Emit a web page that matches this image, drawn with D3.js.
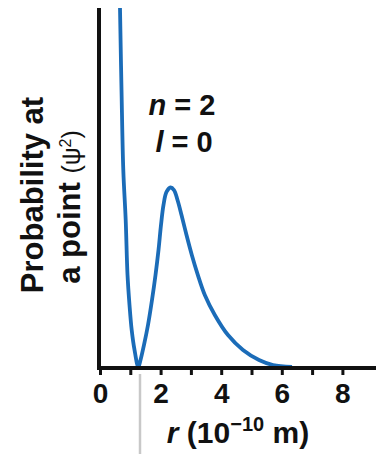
<!DOCTYPE html>
<html>
<head>
<meta charset="utf-8">
<script src="https://cdn.jsdelivr.net/npm/d3@7"></script>
<style>
  html, body { margin: 0; padding: 0; background: #fff; }
  svg { display: block; font-family: "Liberation Sans", Arial, Helvetica, sans-serif; }
</style>
</head>
<body>
<div id="chart"></div>
<script>
// ── Data ──────────────────────────────────────────────────────────────
// r in 10^-10 m, psi^2 in arbitrary units (peak of outer lobe = 1)
const rValues = [
  0.60, 0.660, 0.710, 0.769, 0.848, 0.908, 0.974, 1.046, 1.139, 1.264,
  1.337, 1.452, 1.584, 1.716, 1.832, 1.931, 2.013, 2.096, 2.195, 2.327,
  2.442, 2.558, 2.690, 2.855, 3.030, 3.228, 3.459, 3.789, 4.224, 4.719,
  5.248, 5.710, 6.337
];
const psiSquared = [
  2.6, 2.0, 1.543, 1.097, 0.819, 0.513, 0.345, 0.206, 0.095, 0.0,
  0.039, 0.123, 0.234, 0.373, 0.513, 0.652, 0.791, 0.903, 0.975, 1.0,
  0.986, 0.930, 0.847, 0.735, 0.624, 0.513, 0.401, 0.290, 0.178, 0.095,
  0.039, 0.011, 0.0
];
const xTicks = [0, 1, 2, 3, 4, 5, 6, 7, 8];
const xTickLabels = ['0', '', '2', '', '4', '', '6', '', '8'];

// ── Constants ─────────────────────────────────────────────────────────
const W = 376, H = 454;
const CURVE_BLUE = '#1b6cb8';

const svg = d3.select('#chart').append('svg')
  .attr('width', W).attr('height', H);

const x = d3.scaleLinear().domain([0, 8]).range([100, 342.4]);
const y = d3.scaleLinear().domain([0, 2]).range([367, 8]);

// gray guide line under the node
svg.append('line')
  .attr('x1', 140).attr('x2', 140)
  .attr('y1', 374).attr('y2', H)
  .attr('stroke', '#c8c8c8').attr('stroke-width', 2.5);

// clip so the inner lobe stops at the top of the axis
svg.append('defs').append('clipPath').attr('id', 'plot-clip')
  .append('rect').attr('x', 100).attr('y', 8).attr('width', W - 100).attr('height', 362);

const pts = rValues.map((r, i) => [r, psiSquared[i]]);
const line = d3.line()
  .x(d => x(d[0]))
  .y(d => y(d[1]))
  .curve(d3.curveCatmullRom.alpha(0.5));

svg.append('path')
  .datum(pts)
  .attr('clip-path', 'url(#plot-clip)')
  .attr('d', line)
  .attr('fill', 'none')
  .attr('stroke', CURVE_BLUE)
  .attr('stroke-width', 3.8)
  .attr('stroke-linejoin', 'round');

// X axis (ticks below, labels on even values)
const xAxis = d3.axisBottom(x)
  .tickValues(xTicks)
  .tickFormat((d, i) => xTickLabels[i])
  .tickSize(7)
  .tickSizeOuter(0)
  .tickPadding(8);

const ax = svg.append('g')
  .attr('transform', 'translate(0,368)')
  .call(xAxis);
ax.select('.domain').remove();
ax.selectAll('line').attr('stroke', '#111').attr('stroke-width', 3);
ax.selectAll('text')
  .attr('font-size', '28px')
  .attr('font-weight', 'bold')
  .attr('fill', '#111')
  .attr('font-family', '"Liberation Sans", Arial, sans-serif');

// axis lines
svg.append('line')
  .attr('x1', 97).attr('x2', W)
  .attr('y1', 368).attr('y2', 368)
  .attr('stroke', '#111').attr('stroke-width', 4);
svg.append('line')
  .attr('x1', 99).attr('x2', 99)
  .attr('y1', 8).attr('y2', 370)
  .attr('stroke', '#111').attr('stroke-width', 4);

// X axis title
const xt = svg.append('text')
  .attr('x', 238).attr('y', 443)
  .attr('text-anchor', 'middle')
  .attr('font-size', '30px')
  .attr('font-weight', 'bold')
  .attr('fill', '#111');
xt.append('tspan').attr('font-style', 'italic').text('r');
xt.append('tspan').text(' (10');
xt.append('tspan').attr('font-size', '20px').attr('dy', -12).text('\u221210');
xt.append('tspan').attr('dy', 12).text(' m)');

// Y axis title
const yl = svg.append('g');
yl.append('text')
  .attr('transform', 'translate(43,195) rotate(-90)')
  .attr('text-anchor', 'middle')
  .attr('font-size', '31px')
  .attr('font-weight', 'bold')
  .attr('fill', '#111')
  .text('Probability at');
const yl2 = yl.append('text')
  .attr('transform', 'translate(80,207) rotate(-90)')
  .attr('text-anchor', 'middle')
  .attr('font-size', '31px')
  .attr('font-weight', 'bold')
  .attr('fill', '#111');
yl2.append('tspan').text('a point ');
yl2.append('tspan').attr('font-weight', 'normal').attr('font-size', '25px').text('(\u03C8');
yl2.append('tspan').attr('font-weight', 'normal').attr('font-size', '16px').attr('dy', -9).text('2');
yl2.append('tspan').attr('font-weight', 'normal').attr('font-size', '25px').attr('dy', 9).text(')');

// quantum number labels
const q = svg.append('g')
  .attr('font-size', '29px')
  .attr('font-weight', 'bold')
  .attr('fill', '#111');
const n = q.append('text').attr('x', 182).attr('y', 115).attr('text-anchor', 'middle');
n.append('tspan').attr('font-style', 'italic').text('n');
n.append('tspan').text(' = 2');
const l = q.append('text').attr('x', 184).attr('y', 152).attr('text-anchor', 'middle');
l.append('tspan').attr('font-style', 'italic').text('l');
l.append('tspan').text(' = 0');
</script>
</body>
</html>
